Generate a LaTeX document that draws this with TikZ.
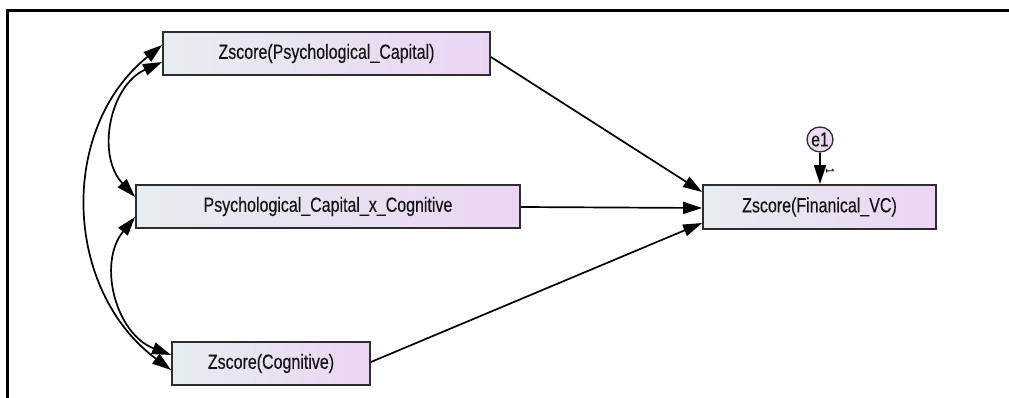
\documentclass[tikz,border=0pt]{standalone}
\usepackage{fontspec}
\newfontfamily\amosfont[FakeStretch=0.78,FakeBold=0.3]{Liberation Sans}
\usetikzlibrary{arrows.meta,calc,shapes.geometric}
\definecolor{boxleft}{RGB}{230,237,240}
\definecolor{boxright}{RGB}{235,213,243}
\definecolor{boxline}{RGB}{45,45,45}
\definecolor{inktext}{RGB}{20,20,20}
\begin{document}
\begin{tikzpicture}[x=1pt,y=-1pt,
  varbox/.style={rectangle, draw=boxline, line width=1.8pt,
    left color=boxleft, right color=boxright,
    minimum height=43pt, inner sep=0pt, text=inktext,
    font=\amosfont\fontsize{20.5}{24}\selectfont},
  errvar/.style={ellipse, draw=boxline, line width=1.3pt,
    left color=boxleft!40!boxright, right color=boxright,
    minimum width=26pt, minimum height=25pt, inner sep=0pt, text=inktext,
    font=\amosfont\fontsize{20}{22}\selectfont},
  tip/.tip={Triangle[length=19pt,width=12pt]},
  path/.style={line width=1.7pt, -tip},
  cov/.style={line width=1.7pt, tip-tip},
  frameline/.style={line width=3pt, black}]
\useasboundingbox (0,0) rectangle (1009,398);

% frame
\draw[frameline] (7.5,398) -- (7.5,10.5) -- (1009,10.5);

% observed variables
\node[varbox, minimum width=327pt] (pc)  at (326.5,53.5) {Zscore(Psychological\_Capital)};
\node[varbox, minimum width=384pt] (int) at (328,206.5) {Psychological\_Capital\_x\_Cognitive};
\node[varbox, minimum width=198pt] (cog) at (271,363.5) {Zscore(Cognitive)};
\node[varbox, minimum width=233pt, minimum height=44pt] (fin) at (819.5,207) {Zscore(Finanical\_VC)};

% error term
\node[errvar] (e1) at (820,139.5) {e1};

% regression paths
\draw[path] ($(pc.east)+(0,3.5)$) -- ($(fin.west)+(0,-15)$);
\draw[path] ($(int.east)+(0,0.5)$) -- ($(fin.west)+(0,1)$);
\draw[path] ($(cog.east)+(0,-1.5)$) -- ($(fin.west)+(0,16)$);
\draw[path] (e1.south) -- (fin.north -| e1.south);
\node[rotate=-90, font=\amosfont\fontsize{11}{12}\selectfont, text=inktext] (one) at (830,170.5) {1};

% covariances
\draw[cov] ($(pc.west)+(0,8.5)$) .. controls (109.8,85.5) and (95.9,154.9) .. ($(int.west)+(0,-9.5)$);
\draw[cov] ($(int.west)+(0,10.5)$) .. controls (97.1,263) and (115.7,333.9) .. ($(cog.west)+(0,-8.5)$);
\draw[cov] ($(pc.west)+(0,-8.5)$) .. controls (58,129) and (63.5,290) .. ($(cog.west)+(0,6.5)$);
\end{tikzpicture}
\end{document}
